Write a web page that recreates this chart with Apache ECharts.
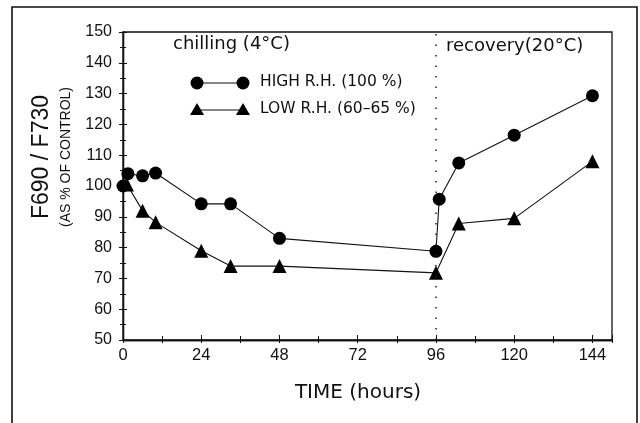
<!DOCTYPE html>
<html><head><meta charset="utf-8">
<script src="https://cdn.jsdelivr.net/npm/echarts@6/dist/echarts.min.js"></script>
<style>html,body{margin:0;padding:0;background:#fff}#c{width:640px;height:423px}</style>
</head><body><div id="c"></div>
<script>
const highHours = [0, 1.5, 6, 10, 24, 33, 48, 96, 97, 103, 120, 144];
const highValues = [100, 104, 103.3, 104.2, 94.2, 94.2, 83, 78.8, 95.7, 107.5, 116.5, 129.3];
const lowHours = [1.2, 6, 10, 24, 33, 48, 96, 103, 120, 144];
const lowValues = [100.5, 92, 88.2, 79, 74, 74, 71.8, 87.8, 89.5, 108];
const xTickLabels = [0, 24, 48, 72, 96, 120, 144];
const yTickLabels = [50, 60, 70, 80, 90, 100, 110, 120, 130, 140, 150];
const phaseBoundary = 96;
const seriesNames = ['HIGH R.H. (100 %)', 'LOW R.H. (60\u201365 %)'];
const phaseLabels = ['chilling (4\u00b0C)', 'recovery(20\u00b0C)'];
const axisTitles = ['TIME (hours)', 'F690 / F730', '(AS % OF CONTROL)'];

const FONT = 'Liberation Sans, Arial, sans-serif';
const WIDE = 'DejaVu Sans, sans-serif';
const chart = echarts.init(document.getElementById('c'), null, {renderer: 'canvas'});
const pair = (xs, ys) => xs.map((x, i) => [x, ys[i]]);
const lineCol = '#111';

const xBase = {type: 'value', min: 0, max: 150, interval: 24, gridIndex: 0, position: 'bottom',
  axisLine: {show: true, lineStyle: {color: lineCol, width: 1.3}}, splitLine: {show: false}};
const yBase = {type: 'value', min: 50, max: 150, interval: 10, gridIndex: 0, position: 'left',
  axisLine: {show: true, lineStyle: {color: lineCol, width: 1.3}}, splitLine: {show: false}};

chart.setOption({
  backgroundColor: '#fff',
  animation: false,
  grid: {left: 123, right: 28, top: 32, bottom: 83, show: true, borderColor: lineCol, borderWidth: 1.3, backgroundColor: 'transparent'},
  xAxis: [
    Object.assign({}, xBase, {
      axisTick: {show: true, inside: false, length: 3, lineStyle: {color: lineCol}},
      minorTick: {show: true, splitNumber: 2, length: 3, lineStyle: {color: lineCol}},
      axisLabel: {show: true, margin: 7, color: '#111', fontFamily: FONT, fontSize: 16.5,
        showMaxLabel: false, formatter: v => xTickLabels.includes(v) ? String(v) : ''}
    }),
    Object.assign({}, xBase, {
      axisTick: {show: true, inside: true, length: 5, lineStyle: {color: lineCol}},
      minorTick: {show: true, splitNumber: 2, length: 4, lineStyle: {color: lineCol}},
      axisLabel: {show: false}
    })
  ],
  yAxis: [
    Object.assign({}, yBase, {
      axisTick: {show: true, inside: false, length: 4, lineStyle: {color: lineCol}},
      minorTick: {show: true, splitNumber: 2, length: 3, lineStyle: {color: lineCol}},
      axisLabel: {show: true, margin: 11, color: '#111', fontFamily: FONT, fontSize: 16,
        formatter: v => yTickLabels.includes(v) ? String(v) : ''}
    }),
    Object.assign({}, yBase, {
      axisTick: {show: true, inside: true, length: 4, lineStyle: {color: lineCol}},
      minorTick: {show: true, splitNumber: 2, length: 3, lineStyle: {color: lineCol}},
      axisLabel: {show: false}
    })
  ],
  series: [
    {name: seriesNames[0], type: 'line', xAxisIndex: 0, yAxisIndex: 0, data: pair(highHours, highValues),
      symbol: 'circle', symbolSize: 13, itemStyle: {color: '#000'}, lineStyle: {color: lineCol, width: 1.1},
      markLine: {silent: true, symbol: 'none', label: {show: false},
        lineStyle: {color: '#222', type: [1.5, 9], width: 1.5},
        data: [{xAxis: phaseBoundary}]}},
    {name: seriesNames[1], type: 'line', xAxisIndex: 0, yAxisIndex: 0, data: pair(lowHours, lowValues),
      symbol: 'triangle', symbolSize: 14, itemStyle: {color: '#000'}, lineStyle: {color: lineCol, width: 1.1}}
  ],
  graphic: [
    {type: 'rect', silent: true, shape: {x: 12, y: 7, width: 625, height: 440},
      style: {fill: 'none', stroke: '#111', lineWidth: 1.6}},
    {type: 'text', left: 173, top: 35, style: {text: phaseLabels[0], font: '18px ' + WIDE, fill: '#111'}},
    {type: 'text', left: 446, top: 37, style: {text: phaseLabels[1], font: '18px ' + WIDE, fill: '#111'}},
    // legend
    {type: 'line', shape: {x1: 197, y1: 83, x2: 243, y2: 83}, style: {stroke: lineCol, lineWidth: 1.1}},
    {type: 'circle', shape: {cx: 197, cy: 83, r: 6.5}, style: {fill: '#000'}},
    {type: 'circle', shape: {cx: 243, cy: 83, r: 6.5}, style: {fill: '#000'}},
    {type: 'text', left: 260, top: 74, style: {text: seriesNames[0], font: '15.5px ' + WIDE, fill: '#111'}},
    {type: 'line', shape: {x1: 197, y1: 110, x2: 243, y2: 110}, style: {stroke: lineCol, lineWidth: 1.1}},
    {type: 'polygon', shape: {points: [[197, 103], [204, 115], [190, 115]]}, style: {fill: '#000'}},
    {type: 'polygon', shape: {points: [[243, 103], [250, 115], [236, 115]]}, style: {fill: '#000'}},
    {type: 'text', left: 260, top: 101, style: {text: seriesNames[1], font: '15.5px ' + WIDE, fill: '#111'}},
    // axis titles
    {type: 'text', x: 358, y: 393, style: {text: axisTitles[0], font: '20px ' + WIDE, fill: '#111', align: 'center', verticalAlign: 'middle'}},
    {type: 'text', x: 42, y: 157, rotation: Math.PI / 2, style: {text: axisTitles[1], font: '23px ' + FONT, fill: '#111', align: 'center', verticalAlign: 'middle'}},
    {type: 'text', x: 66, y: 157, rotation: Math.PI / 2, style: {text: axisTitles[2], font: '14px ' + FONT, fill: '#111', align: 'center', verticalAlign: 'middle'}}
  ]
});
</script>
</body></html>
